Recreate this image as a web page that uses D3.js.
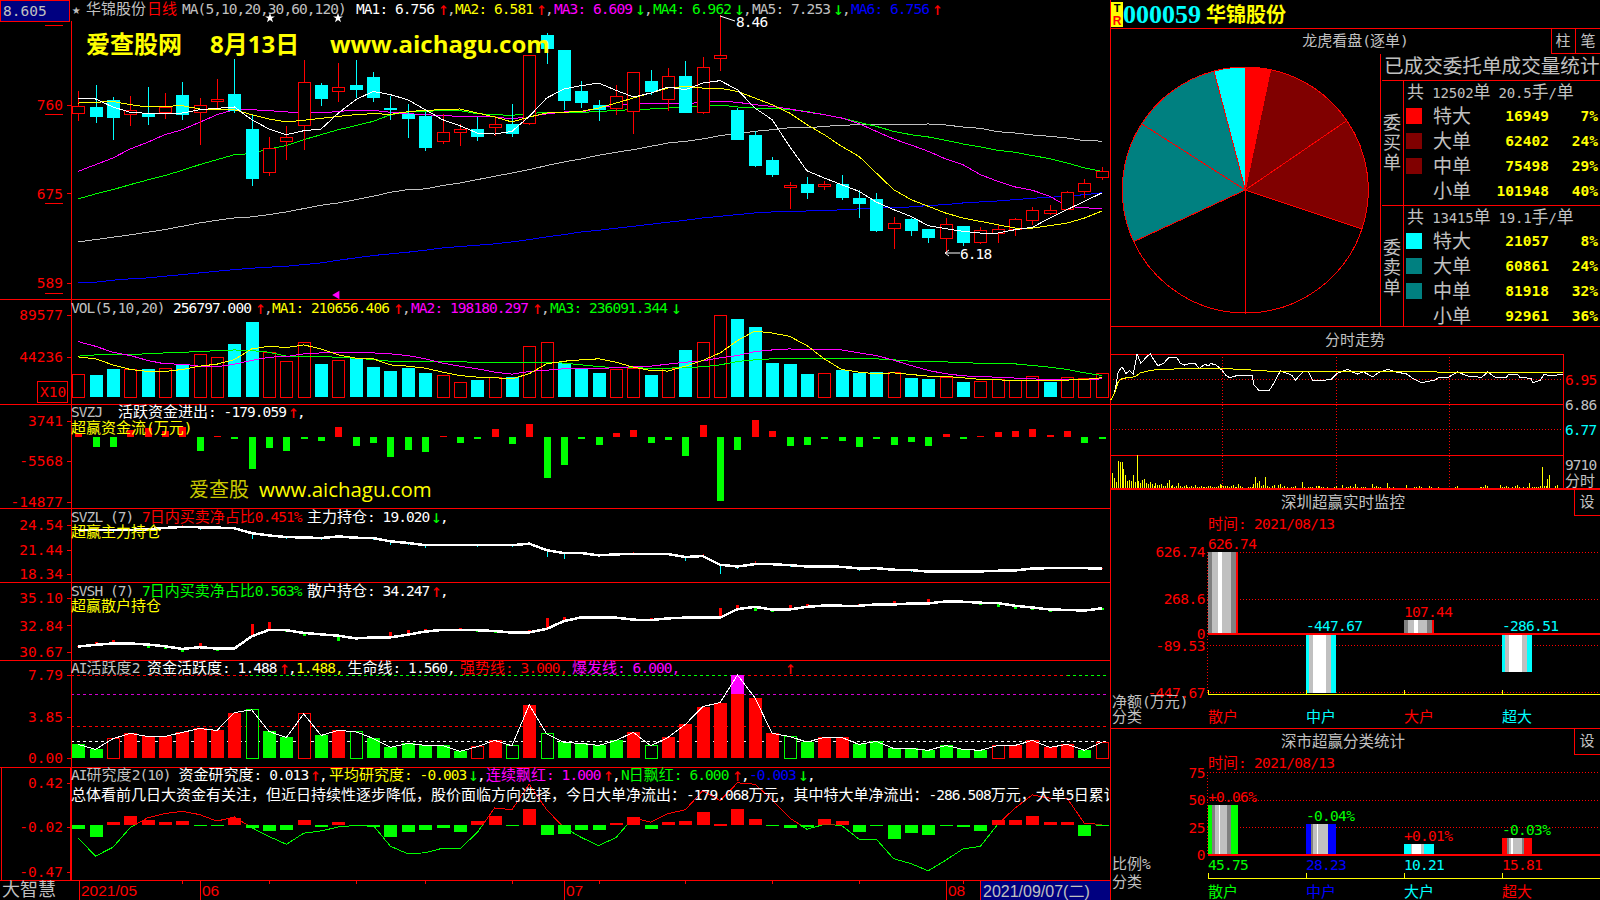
<!DOCTYPE html>
<html><head><meta charset="utf-8">
<script src="https://cdn.jsdelivr.net/npm/d3@7"></script>
<style>html,body{margin:0;padding:0;background:#000;overflow:hidden}svg{display:block}</style>
</head><body><svg id="c" width="1600" height="900"></svg>
<script>
// ---------- daily candles ----------
const candleOpen=[7.52,7.58,7.64,7.51,7.51,7.53,7.69,7.53,7.63,7.70,7.36,6.95,7.25,7.40,7.79,7.73,7.79,7.86,7.57,7.51,7.49,7.25,7.34,7.36,7.38,7.41,7.42,8.27,8.12,7.73,7.60,7.57,7.54,7.83,7.65,7.87,7.53,8.05,7.55,7.31,7.07,6.81,6.84,6.82,6.84,6.70,6.69,6.41,6.50,6.40,6.32,6.43,6.28,6.37,6.40,6.49,6.56,6.60,6.77,6.90];
const candleClose=[7.59,7.49,7.48,7.55,7.49,7.58,7.51,7.60,7.65,7.55,6.89,7.18,7.29,7.82,7.66,7.77,7.75,7.67,7.56,7.47,7.19,7.34,7.36,7.30,7.41,7.33,8.08,8.14,7.64,7.62,7.56,7.68,7.91,7.73,7.87,7.53,7.96,8.08,7.27,7.02,6.93,6.83,6.76,6.84,6.71,6.65,6.39,6.46,6.39,6.33,6.45,6.28,6.39,6.40,6.50,6.59,6.59,6.76,6.85,6.96];
const candleHigh=[7.73,7.79,7.68,7.69,7.77,7.72,7.82,7.67,7.85,8.04,7.51,7.29,7.40,8.03,7.81,8.00,8.03,7.92,7.69,7.61,7.53,7.51,7.42,7.48,7.49,7.61,8.08,8.29,8.12,7.83,7.65,7.79,7.92,7.94,7.96,8.02,8.06,8.46,7.57,7.35,7.10,6.86,6.91,6.87,6.93,6.78,6.75,6.52,6.51,6.41,6.51,6.43,6.43,6.45,6.51,6.62,6.64,6.77,6.89,7.00];
const candleLow=[7.45,7.43,7.26,7.40,7.41,7.47,7.46,7.22,7.57,7.52,6.82,6.92,7.07,7.17,7.59,7.63,7.67,7.63,7.46,7.28,7.16,7.23,7.21,7.25,7.30,7.29,7.41,7.99,7.55,7.57,7.45,7.50,7.32,7.70,7.54,7.53,7.51,7.93,7.27,7.00,6.91,6.60,6.70,6.78,6.69,6.51,6.38,6.22,6.34,6.27,6.18,6.25,6.26,6.27,6.34,6.45,6.54,6.60,6.71,6.88];
// ---------- price moving averages ----------
const ma1=[7.658,7.658,7.581,7.530,7.520,7.520,7.523,7.555,7.568,7.581,7.459,7.369,7.315,7.353,7.369,7.523,7.651,7.731,7.699,7.651,7.555,7.459,7.401,7.331,7.321,7.347,7.491,7.667,7.754,7.786,7.811,7.741,7.677,7.715,7.773,7.747,7.811,7.834,7.747,7.571,7.459,7.203,6.969,6.899,6.835,6.771,6.668,6.595,6.530,6.441,6.412,6.386,6.370,6.370,6.402,6.425,6.514,6.595,6.675,6.755];
const ma2=[7.619,7.626,7.635,7.603,7.581,7.587,7.594,7.562,7.552,7.555,7.507,7.465,7.437,7.453,7.472,7.491,7.507,7.517,7.510,7.536,7.549,7.555,7.562,7.523,7.485,7.437,7.485,7.523,7.530,7.539,7.571,7.619,7.667,7.715,7.763,7.779,7.763,7.760,7.731,7.667,7.603,7.523,7.411,7.315,7.203,7.107,6.947,6.787,6.691,6.627,6.562,6.514,6.482,6.450,6.418,6.418,6.441,6.466,6.514,6.581];
const ma3=[6.963,7.027,7.091,7.178,7.242,7.315,7.363,7.434,7.507,7.555,7.555,7.546,7.533,7.530,7.523,7.539,7.549,7.549,7.530,7.517,7.507,7.498,7.491,7.485,7.485,7.466,7.491,7.514,7.533,7.533,7.571,7.594,7.610,7.610,7.613,7.613,7.626,7.638,7.626,7.603,7.587,7.562,7.533,7.507,7.475,7.421,7.347,7.274,7.216,7.155,7.082,7.027,6.931,6.867,6.813,6.781,6.723,6.627,6.611,6.609];
const ma4=[6.698,6.746,6.787,6.835,6.880,6.922,6.973,7.027,7.075,7.123,7.133,7.178,7.210,7.267,7.315,7.363,7.402,7.443,7.507,7.533,7.539,7.546,7.546,7.517,7.507,7.501,7.517,7.530,7.530,7.530,7.536,7.549,7.555,7.562,7.571,7.578,7.594,7.600,7.581,7.571,7.571,7.555,7.539,7.507,7.475,7.434,7.395,7.347,7.315,7.293,7.261,7.226,7.197,7.165,7.146,7.114,7.085,7.043,6.995,6.962];
const ma5=[6.285,6.307,6.330,6.352,6.378,6.403,6.435,6.467,6.493,6.515,6.525,6.547,6.573,6.605,6.637,6.659,6.691,6.723,6.762,6.787,6.794,6.826,6.851,6.883,6.915,6.947,6.979,7.018,7.053,7.082,7.117,7.146,7.171,7.203,7.235,7.251,7.274,7.306,7.325,7.347,7.363,7.382,7.379,7.395,7.405,7.411,7.411,7.411,7.411,7.418,7.408,7.389,7.376,7.344,7.331,7.312,7.299,7.283,7.258,7.253];
const ma6=[5.891,5.898,5.917,5.930,5.939,5.955,5.971,5.987,6.003,6.019,6.032,6.042,6.051,6.067,6.083,6.109,6.131,6.154,6.170,6.186,6.205,6.227,6.240,6.253,6.266,6.285,6.307,6.333,6.355,6.381,6.397,6.416,6.435,6.454,6.474,6.493,6.515,6.531,6.547,6.563,6.573,6.576,6.582,6.589,6.592,6.602,6.611,6.611,6.621,6.634,6.643,6.659,6.669,6.678,6.691,6.704,6.714,6.723,6.739,6.756];
const priceTicks=[7.60,6.75,5.89];
// ---------- volume (unit x10) ----------
const volValues=[24274,23550,30070,30070,30070,30800,36230,46010,42750,58330,82240,48910,38400,59050,36590,39490,42750,32240,27900,31160,25720,23190,15580,18120,21380,21380,54710,59050,36950,30070,25720,30070,31520,23550,31520,51810,59050,88760,85500,76810,37680,35510,24640,25360,28980,25720,26810,26450,20290,19200,21010,15940,17030,19200,18120,22100,15940,21010,19930,25680];
const volUp=[1,0,0,1,0,1,0,1,1,0,0,1,1,1,0,1,0,0,0,0,0,1,1,0,1,0,1,1,0,0,0,1,1,0,1,0,1,1,0,0,0,0,0,1,0,0,0,1,0,0,1,0,1,1,1,1,0,1,1,1];
const volMa1=[43.8,41.7,35.1,30.1,27.9,27.9,30.1,33.7,35.9,40.9,52.5,55.4,54.0,56.9,52.5,46.0,42.4,41.7,35.1,33.7,31.5,27.2,23.5,21.7,21.0,19.9,25.4,36.2,39.1,40.6,41.7,38.0,32.6,29.0,28.3,33.7,39.9,48.2,61.6,72.1,69.9,66.3,56.2,41.7,30.1,27.2,25.4,26.4,24.6,22.8,22.5,21.0,19.2,18.8,17.8,17.8,17.8,18.5,19.2,21.1];
const volMa2=[60.5,55.4,48.9,45.3,39.9,36.2,35.9,33.7,33.0,35.9,39.9,43.5,44.2,47.1,48.2,48.2,48.9,48.2,47.1,45.3,41.7,37.0,33.7,30.8,27.2,25.0,27.9,29.3,30.8,30.8,30.8,32.2,33.0,33.7,35.9,38.0,39.5,42.8,45.3,49.6,51.4,52.5,51.4,51.4,51.4,48.2,45.3,40.2,34.4,29.0,25.4,23.2,22.1,21.7,20.7,19.9,18.8,18.8,18.8,19.8];
const volMa3=[44.6,46.0,46.0,46.7,47.1,48.2,48.9,49.6,50.7,51.4,50.7,48.9,44.6,44.6,44.6,43.1,42.4,40.9,39.1,39.1,39.1,38.8,38.8,37.3,37.3,37.3,38.0,38.0,37.0,35.1,33.3,31.9,31.9,31.5,31.5,32.2,33.0,35.1,38.8,40.6,41.7,41.7,42.4,42.4,42.4,42.4,41.7,40.6,39.1,38.4,38.4,37.3,37.0,36.2,36.2,34.4,32.6,30.1,26.4,23.6];
const volTicks=[89577,44236];
// ---------- capital flow ----------
const flowValues=[924,-2233,-2233,1694,2079,1463,2464,-3157,308,-154,-7315,-2464,-3157,-385,-847,2387,-2002,-1309,-4543,-2926,-3388,308,-1309,-154,1925,-1540,3080,-9394,-6391,-154,-1771,1001,1694,-1309,-616,-4312,2849,-14707,-2926,4004,1463,-2002,-1771,-154,-847,-2233,-385,-1771,-1078,-2002,770,-385,308,1232,1463,1925,539,1463,-1309,-179];
const flowTicks=[3741,-5568,-14877];
// ---------- holdings ----------
const mainHold=[23.92,23.92,23.88,23.92,24.00,24.17,24.29,24.25,24.21,24.13,23.51,23.22,23.01,22.97,22.89,23.09,22.93,22.89,22.47,22.27,21.98,21.98,21.98,21.98,21.98,21.98,22.18,21.36,20.99,20.99,20.70,20.82,20.90,20.86,20.86,20.49,20.61,19.50,19.29,19.58,19.58,19.46,19.29,19.29,19.25,19.04,19.08,18.88,18.84,18.63,18.63,18.63,18.67,18.75,18.79,19.04,19.08,19.08,19.08,19.02];
const mainDelta=[.1,.05,-.25,.1,.05,.1,.2,-.3,.1,.05,-.7,-.2,-.3,-.05,-.2,.1,-.2,-.3,-.5,-.2,-.4,.15,-.15,-.2,.15,-.2,.2,-.9,-.8,-.1,-.2,.15,.2,-.1,-.1,-.5,.3,-1.2,-.3,.4,.2,-.2,-.2,-.1,-.2,-.3,.1,-.2,-.2,-.2,.15,-.1,.15,.2,.2,.2,.1,.15,-.15,.05];
const mainTicks=[24.54,21.44,18.34];
const retailHold=[31.10,31.24,31.35,31.35,31.26,31.12,30.90,31.04,30.93,30.93,31.94,32.47,32.44,32.22,32.10,31.99,31.77,31.85,31.85,32.08,32.33,32.47,32.47,32.44,32.38,32.24,32.27,32.55,33.20,33.50,33.48,33.48,33.31,33.28,33.42,33.48,33.48,33.48,34.18,34.37,34.15,34.15,34.37,34.48,34.46,34.46,34.57,34.57,34.65,34.65,34.82,34.79,34.71,34.68,34.46,34.32,34.15,34.12,34.06,34.25];
const retailDelta=[.06,.25,.25,-.08,-.25,-.25,-.25,.34,-.17,.08,1.0,.67,-.17,-.25,-.17,-.42,.08,.08,.42,.34,.25,-.08,.17,-.11,-.14,.14,.17,.92,.34,-.17,.17,-.14,-.14,.17,-.14,.14,-.11,.76,.34,-.34,-.17,.34,.25,.08,.08,.17,-.08,.25,-.08,.34,-.17,-.08,-.17,-.34,-.25,-.25,-.17,-.08,.17,-.08];
const retailTicks=[35.10,32.84,30.67];
// ---------- activity ----------
const activeValues=[1.28,.81,1.81,2.31,2.02,2.02,2.40,2.77,2.59,4.27,4.52,2.49,1.93,4.14,2.12,2.59,2.46,1.84,1.00,1.37,1.18,1.18,.62,1.06,1.65,1.15,4.98,2.27,1.46,1.37,1.18,1.65,2.40,1.15,1.93,3.15,4.83,5.20,7.79,5.67,2.31,2.02,1.50,1.93,1.93,1.28,1.56,.90,.90,.72,1.18,.81,.72,1.18,1.18,1.65,1.00,1.28,.72,1.488];
const activeKind=['g','g','rh','r','r','r','r','r','r','r','gh','g','g','rh','g','r','gh','g','g','g','g','g','g','rh','r','gh','r','gh','g','g','g','g','r','gh','r','r','r','r','r','r','r','gh','g','r','r','g','g','g','g','g','g','g','g','rh','r','r','r','r','g','rh'];
const activeTicks=[7.79,3.85,0];
const activeLevels=[1.56,3,6];
// ---------- research ----------
const researchBars=[-.046,-.124,.023,.092,.052,.023,.033,-.007,-.007,.069,-.036,-.065,-.056,.052,-.02,.023,-.007,-.026,-.124,-.075,-.056,-.036,-.075,.033,.092,-.016,.16,-.105,-.095,-.056,-.056,.013,.082,-.046,.023,.033,.131,.003,.16,.062,-.007,-.036,-.026,.062,.033,-.075,-.016,-.144,-.085,-.105,-.016,-.026,-.065,.052,.052,.092,.023,.023,-.114,-.007];
const researchLine=[-.134,-.314,-.226,-.029,.069,.111,.134,.101,.036,.078,-.029,-.118,-.196,-.085,-.062,-.023,-.007,-.007,-.216,-.291,-.281,-.235,-.242,-.078,.167,.150,.405,.150,-.029,-.128,-.209,-.128,.069,.026,.111,.150,.340,.242,.419,.405,.249,.069,-.046,.003,-.007,-.144,-.144,-.340,-.389,-.461,-.356,-.242,-.216,.003,.167,.298,.265,.265,.013,.003];
const researchTicks=[.42,-.02,-.47];
// ---------- date axis ----------
const monthIndex=[0.05,7,28,50.0];
const monthLabels=['2021/05','06','07','08'];
// ---------- order pie ----------
const buyLabels=['特大','大单','中单','小单'];
const buyValues=[16949,62402,75498,101948];
const buyPct=['7%','24%','29%','40%'];
const sellValues=[21057,60861,81918,92961];
const sellPct=['8%','24%','32%','36%'];
// ---------- intraday ----------
const minuteIdx=[0,2,4,6,8,10,12,14,16,19,21,23,25,28,31,35,37,39,42,45,47,50,52,53,56,59,61,63,68,75,76,79,84,87,90,96,98,102,105,107,114,117,120,126,128,131,134,139,142,147,151,157,161,165,172,174,179,184,189,197,200,204,210,211,216,217,223,224,228,230,233,240];
const minutePrice=[6.874,6.898,6.976,6.994,6.970,6.980,6.967,7.040,7.006,7.030,7.040,7.018,6.998,7.006,7.028,7.028,7.006,7.000,7.006,7.004,6.988,7.003,6.997,7.006,7.000,6.982,6.964,6.955,6.964,6.964,6.928,6.907,6.907,6.940,6.979,6.964,6.946,6.976,6.976,6.946,6.946,6.949,6.970,6.985,6.976,6.968,6.976,6.958,6.973,6.985,6.976,6.968,6.949,6.937,6.946,6.955,6.955,6.976,6.961,6.956,6.976,6.956,6.956,6.967,6.967,6.956,6.952,6.937,6.946,6.967,6.961,6.967];
const avgIdx=[0,2,4,6,13,16,22,31,39,59,68,85,240];
const avgPrice=[6.874,6.898,6.940,6.952,6.958,6.973,6.982,6.985,6.988,6.988,6.985,6.978,6.973];
const minuteVol=[0,16,11,7,28,27,27,20,14,8,9,8,14,7,34,8,6,9,10,6,5,7,5,3,6,4,4,5,3,3,6,9,3,4,2,3,6,3,2,3,4,2,2,3,2,4,2,2,3,2,2,2,3,3,2,2,2,3,5,4,3,3,3,2,3,4,2,2,5,3,2,1,0,2,2,2,5,12,6,8,3,4,12,3,2,1,3,4,1,4,5,2,3,1,2,1,2,2,3,1,1,1,7,2,1,2,2,2,1,3,3,3,2,2,0,2,1,1,0,2,3,1,1,4,1,2,2,3,1,2,5,2,1,2,2,2,1,1,1,5,2,3,2,2,1,1,1,6,2,1,2,1,1,1,1,0,1,4,1,1,0,2,2,1,3,2,1,0,1,3,2,1,0,0,2,0,0,0,1,0,1,1,0,2,3,1,1,1,1,1,0,0,1,1,1,0,2,2,2,4,3,1,1,1,1,0,0,4,2,2,3,2,1,2,1,3,4,2,1,2,1,2,6,1,2,2,2,2,3,22,3,3,10,14,0,0,3,4,0,0];
const intraTicks=[6.95,6.86,6.77];
// ---------- Shenzhen bars ----------
const classNames=['散户','中户','大户','超大'];
const netValues=[626.74,-447.67,107.44,-286.51];
const netTicks=[626.74,268.6,0,-89.53,-447.67];
const netTickLabels=['626.74','268.6','0','-89.53','-447.67'];
const ratioValues=[45.75,28.23,10.21,15.81];
const ratioChange=['+0.06%','-0.04%','+0.01%','-0.03%'];
const ratioTicks=[75,50,25,0];

const svg=d3.select('#c');
const RED='#ff0000',CYAN='#00ffff',GREEN='#00ff00',YEL='#ffff00',MAG='#ff00ff',GRAY='#c0c0c0',BLUE='#0000ff';
const CJK='"Noto Sans CJK SC"',MONO='"DejaVu Sans Mono"';
svg.append('rect').attr('width',1600).attr('height',900).attr('fill','#000');
const defs=svg.append('defs');
defs.append('clipPath').attr('id','cp').append('rect').attr('x',71).attr('y',0).attr('width',1038).attr('height',900);
defs.append('clipPath').attr('id','cpr').append('rect').attr('x',1111).attr('y',0).attr('width',489).attr('height',900);

function txt(par,x,y,s,color,o={}){
  if(s==='↑'||s==='↓'){o=Object.assign({},o,{lat:18,ls:0,dy:6,font:MONO});x-=3;}
  const useDefault=o.lat===undefined&&!o.font;
  const lat=useDefault?14.5:(o.lat||13);
  const ls=o.ls!==undefined?o.ls:(useDefault?-.93:0);
  const t=par.append('text').attr('x',x).attr('y',y+(o.dy===undefined?5:o.dy)).attr('fill',color).attr('text-anchor',o.anchor||'start');
  if(o.weight)t.attr('font-weight',o.weight);
  s.split(/([\u2E80-\uFFFF]+)/).filter(r=>r.length).forEach(r=>{
    const c=/[\u2E80-\uFFFF]/.test(r);
    const sp=t.append('tspan').attr('font-family',c?CJK:(o.font||MONO)).attr('font-size',c?(o.cjk||15):lat).text(r);
    if(!c&&ls)sp.attr('letter-spacing',ls);
  });
  return t;
}
const RT={lat:14.5,ls:-.7};
function hline(x1,x2,y,c,o={}){const l=svg.append('line').attr('x1',x1).attr('x2',x2).attr('y1',y).attr('y2',y).attr('stroke',c).attr('stroke-width',o.w||1).attr('shape-rendering','crispEdges');if(o.dash)l.attr('stroke-dasharray',o.dash);return l;}
function vline(x,y1,y2,c,o={}){const l=svg.append('line').attr('x1',x).attr('x2',x).attr('y1',y1).attr('y2',y2).attr('stroke',c).attr('stroke-width',o.w||1).attr('shape-rendering','crispEdges');if(o.dash)l.attr('stroke-dasharray',o.dash);return l;}
function yAxis(scale,vals,labels,x,size,pad){
  const g=svg.append('g').attr('transform',`translate(${x},0)`).call(d3.axisLeft(scale).tickValues(vals).tickFormat((d,i)=>labels[i]).tickSize(size).tickPadding(pad));
  g.select('.domain').remove();
  g.selectAll('line').attr('stroke',RED).attr('shape-rendering','crispEdges');
  g.selectAll('text').attr('fill',RED).attr('font-family',MONO).attr('font-size',14.5);
  return g;
}
const xi=d3.scaleLinear().domain([0,59]).range([78.2,1101.8]);
const idx=d3.range(60);
const plot=svg.append('g').attr('clip-path','url(#cp)').attr('shape-rendering','crispEdges');
function drawLine(yS,arr,c,w){plot.append('path').attr('d',d3.line().x((d,i)=>xi(i)).y(d=>yS(d))(arr)).attr('fill','none').attr('stroke',c).attr('stroke-width',w||1);}

// ---- main
const yP=d3.scaleLinear().domain([8.605,5.89]).range([0.4,283]);
[ma5,ma6,ma4,ma3].forEach((a,k)=>drawLine(yP,a,['#c0c0c0',BLUE,GREEN,MAG][k]));
idx.forEach(i=>{
  const o=candleOpen[i],c=candleClose[i],up=c>=o,col=up?RED:CYAN,x=Math.round(xi(i)),top=yP(Math.max(o,c)),bot=yP(Math.min(o,c));
  plot.append('line').attr('x1',x).attr('x2',x).attr('y1',yP(candleHigh[i])).attr('y2',top).attr('stroke',col);
  plot.append('line').attr('x1',x).attr('x2',x).attr('y1',bot).attr('y2',yP(candleLow[i])).attr('stroke',col);
  plot.append('rect').attr('x',x-6).attr('y',top).attr('width',12).attr('height',Math.max(1,bot-top)).attr('fill',up?'#000':CYAN).attr('stroke',col);
});
drawLine(yP,ma2,YEL);drawLine(yP,ma1,'#fff');
yAxis(yP,priceTicks,priceTicks.map(d=>String(Math.round(d*100))),71,4,4);
[25,114,203,293].forEach(y=>hline(45,63,y,RED));

// ---- volume
const yV=d3.scaleLinear().domain([0,89577]).range([397,315]);
idx.forEach(i=>{const x=Math.round(xi(i)),y=yV(volValues[i]);
  if(volUp[i])plot.append('rect').attr('x',x-6).attr('y',y).attr('width',12).attr('height',397-y).attr('fill','#000').attr('stroke',RED);
  else plot.append('rect').attr('x',x-6.5).attr('y',y).attr('width',13).attr('height',397-y).attr('fill',CYAN);
});
[[volMa3,GREEN],[volMa2,MAG],[volMa1,YEL]].forEach(([a,c])=>drawLine(yV,a.map(v=>v*1000),c));
yAxis(yV,volTicks,volTicks.map(String),71,4,4);

// ---- flow
const yF=d3.scaleLinear().domain([3741,-14877]).range([421,501.7]);
idx.forEach(i=>{const v=flowValues[i],y0=yF(0),y1=yF(v);
  plot.append('rect').attr('x',Math.round(xi(i))-3.5).attr('y',Math.min(y0,y1)).attr('width',7).attr('height',Math.max(1.5,Math.abs(y1-y0))).attr('fill',v>=0?RED:GREEN);
});
yAxis(yF,flowTicks,flowTicks.map(String),71,4,4);

// ---- main hold
const yH=d3.scaleLinear().domain([24.54,18.34]).range([525,574]);
idx.forEach(i=>{const x=Math.round(xi(i)),v=mainHold[i],d=mainDelta[i];
  plot.append('line').attr('x1',x).attr('x2',x).attr('y1',yH(v)).attr('y2',yH(v+d)).attr('stroke',d>=0?RED:CYAN);});
drawLine(yH,mainHold,'#fff',2.5);
yAxis(yH,mainTicks,mainTicks.map(d=>d.toFixed(2)),71,4,4);

// ---- retail hold
const yR=d3.scaleLinear().domain([35.10,30.67]).range([598,651.7]);
idx.forEach(i=>{const x=Math.round(xi(i)),v=retailHold[i],d=retailDelta[i],a=yR(v),b=yR(v+d);
  plot.append('rect').attr('x',x-1.5).attr('y',Math.min(a,b)).attr('width',3).attr('height',Math.max(1.5,Math.abs(a-b))).attr('fill',d>=0?RED:GREEN);});
drawLine(yR,retailHold,'#fff',2.5);
yAxis(yR,retailTicks,retailTicks.map(d=>d.toFixed(2)),71,4,4);

// ---- activity
const yA=d3.scaleLinear().domain([7.79,0]).range([675,758]);
[[activeLevels[0],'#fff'],[activeLevels[1],RED],[activeLevels[2],'#d000d0']].forEach(([v,c])=>plot.append('line').attr('x1',71).attr('x2',1109).attr('y1',yA(v)).attr('y2',yA(v)).attr('stroke',c).attr('stroke-dasharray','3,3'));
[[71,250,RED],[250,736,GREEN],[736,1067,RED],[1067,1109,GREEN]].forEach(([a,b,c])=>plot.append('line').attr('x1',a).attr('x2',b).attr('y1',675).attr('y2',675).attr('stroke',c).attr('stroke-dasharray','3,3'));
idx.forEach(i=>{const x=Math.round(xi(i)),v=activeValues[i],k=activeKind[i],c=k[0]==='r'?RED:GREEN,y=yA(Math.min(v,6));
  if(k.length>1)plot.append('rect').attr('x',x-6).attr('y',y).attr('width',12).attr('height',758-y).attr('fill','#000').attr('stroke',c);
  else plot.append('rect').attr('x',x-6.5).attr('y',y).attr('width',13).attr('height',758-y).attr('fill',c);
  if(v>6)plot.append('rect').attr('x',x-6.5).attr('y',yA(v)).attr('width',13).attr('height',yA(6)-yA(v)).attr('fill',MAG);
});
drawLine(yA,activeValues,'#fff');
yAxis(yA,activeTicks,activeTicks.map(d=>d.toFixed(2)),71,4,4);

// ---- research
const yS=d3.scaleLinear().domain([.42,-.47]).range([782.7,871.7]);
defs.append('clipPath').attr('id','above').append('rect').attr('x',71).attr('y',767).attr('width',1038).attr('height',yS(0)-767);
defs.append('clipPath').attr('id','below').append('rect').attr('x',71).attr('y',yS(0)).attr('width',1038).attr('height',880-yS(0));
[['above',RED],['below',GREEN]].forEach(([id,c])=>{
  svg.append('g').attr('clip-path',`url(#${id})`).attr('shape-rendering','crispEdges').append('path').attr('d',d3.line().x((d,i)=>xi(i)).y(d=>yS(d))(researchLine)).attr('fill','none').attr('stroke',c);
});
idx.forEach(i=>{const v=researchBars[i],a=yS(0),b=yS(v);
  plot.append('rect').attr('x',Math.round(xi(i))-6.5).attr('y',Math.min(a,b)).attr('width',13).attr('height',Math.max(1.5,Math.abs(a-b))).attr('fill',v>=0?RED:GREEN);});
yAxis(yS,researchTicks,researchTicks.map(d=>d.toFixed(2)),71,4,4);

// ---- frame lines
[299,404,508,582,660,767,880].forEach(y=>hline(0,1110,y,RED));
vline(71,21,880,RED);vline(1110.5,0,900,RED);
svg.append('rect').attr('x',1).attr('y',767).attr('width',69).attr('height',113).attr('fill','none').attr('stroke',RED).attr('shape-rendering','crispEdges');
svg.append('rect').attr('x',.5).attr('y',.5).attr('width',69).attr('height',21).attr('fill','#000080').attr('stroke',RED).attr('shape-rendering','crispEdges');
txt(svg,3,11,'8.605',GRAY,{lat:14.5});
svg.append('rect').attr('x',37.5).attr('y',381).attr('width',30).attr('height',21).attr('fill','none').attr('stroke',RED).attr('shape-rendering','crispEdges');
txt(svg,40,392,'X10',RED,{lat:14.5});

// ---- main headers
txt(svg,72,9,'★',GRAY,{lat:14});
txt(svg,86,9,'华锦股份',GRAY);txt(svg,147,9,'日线',RED);
txt(svg,182,9,'MA(5,10,20,30,60,120)',GRAY);
const segs1=[[356,'MA1: 6.756','#fff'],[441,'↑',RED],[447,',',GRAY],[455,'MA2: 6.581',YEL],[539,'↑',RED],[545,',',GRAY],[554,'MA3: 6.609',MAG],[638,'↓',GREEN],[644,',',GRAY],[653,'MA4: 6.962',GREEN],[737,'↓',GREEN],[743,',',GRAY],[752,'MA5: 7.253',GRAY],[836,'↓',GREEN],[842,',',GRAY],[851,'MA6: 6.756',BLUE],[935,'↑',RED]];
segs1.forEach(([x,s,c])=>txt(svg,x,9,s,c));
[270,338].forEach(x=>svg.append('path').attr('transform',`translate(${x},18)`).attr('d',d3.symbol(d3.symbolStar,30)()).attr('fill','#fff'));
svg.append('path').attr('transform','translate(337,295) rotate(-90)').attr('d',d3.symbol(d3.symbolTriangle,30)()).attr('fill',MAG);
txt(svg,86,45,'爱查股网',YEL,{cjk:24,weight:'bold',dy:8});
txt(svg,210,45,'8月13日',YEL,{cjk:24,lat:24,font:'"Open Sans"',weight:'bold',dy:8});
txt(svg,330,45,'www.aichagu.com',YEL,{lat:24,font:'"Open Sans"',weight:'bold',dy:8});
// annotations
svg.append('line').attr('x1',720).attr('y1',16).attr('x2',735).attr('y2',21).attr('stroke','#fff');
txt(svg,736,22,'8.46','#fff');
svg.append('line').attr('x1',945).attr('y1',253).attr('x2',960).attr('y2',253).attr('stroke','#fff');
svg.append('path').attr('d','M945,253l4,-3M945,253l4,3').attr('stroke','#fff').attr('fill','none');
txt(svg,960,254,'6.18','#fff');

// ---- panel headers
[[71,'VOL(5,10,20)',GRAY],[173,'256797.000','#fff'],[258,'↑',RED],[264,',',GRAY],[272,'MA1: 210656.406',YEL],[396,'↑',RED],[402,',',GRAY],[411,'MA2: 198180.297',MAG],[535,'↑',RED],[541,',',GRAY],[550,'MA3: 236091.344',GREEN],[674,'↓',GREEN]].forEach(([x,s,c])=>txt(svg,x,308,s,c));
[[71,'SVZJ',GRAY],[118,'活跃资金进出: -179.059','#fff'],[291,'↑',RED],[297,',','#fff']].forEach(([x,s,c])=>txt(svg,x,412,s,c));
txt(svg,71,428,'超赢资金流(万元)',YEL);
txt(svg,189,490,'爱查股',"#c8c800",{cjk:20,dy:7});
txt(svg,259,490,'www.aichagu.com',YEL,{lat:20.4,font:'"Open Sans"',dy:7});
[[71,'SVZL (7)',GRAY],[142,'7日内买卖净占比0.451%',RED],[307,'主力持仓: 19.020','#fff'],[434,'↓',GREEN],[440,',','#fff']].forEach(([x,s,c])=>txt(svg,x,517,s,c));
txt(svg,71,532,'超赢主力持仓',YEL);
[[71,'SVSH (7)',GRAY],[142,'7日内买卖净占比0.563%',GREEN],[307,'散户持仓: 34.247','#fff'],[434,'↑',RED],[440,',','#fff']].forEach(([x,s,c])=>txt(svg,x,591,s,c));
txt(svg,71,606,'超赢散户持仓',YEL);
[[71,'AI活跃度2',GRAY],[147,'资金活跃度: 1.488','#fff'],[282,'↑',RED],[288,',','#fff'],[296,'1.488,',YEL],[347.5,'生命线: 1.560,','#fff'],[460,'强势线: 3.000,',RED],[572,'爆发线: 6.000,',MAG],[788,'↑',RED]].forEach(([x,s,c])=>txt(svg,x,668,s,c));
[[71,'AI研究度2(10)',GRAY],[178.6,'资金研究度: 0.013','#fff'],[313,'↑',RED],[319,',','#fff'],[329,'平均研究度: -0.003',YEL],[471,'↓',GREEN],[477,',','#fff'],[486,'连续飘红: 1.000',MAG],[606,'↑',RED],[612,',','#fff'],[621,'N日飘红: 6.000',GREEN],[735,'↑',RED],[741,',','#fff'],[749,'-0.003',BLUE],[801,'↓',GREEN],[807,',','#fff']].forEach(([x,s,c])=>txt(svg,x,775,s,c));
txt(svg.append('g').attr('clip-path','url(#cp)'),71,795,'总体看前几日大资金有关注，但近日持续性逐步降低，股价面临方向选择，今日大单净流出：-179.068万元，其中特大单净流出：-286.508万元，大单5日累计','#fff');

// ---- date axis
txt(svg,2,890,'大智慧',GRAY,{cjk:18,dy:6});
monthIndex.forEach((m,i)=>{const x=Math.round(xi(m));vline(x,880,900,RED);txt(svg,x+2,891,monthLabels[i],RED,{lat:15.5,dy:5,font:'"Liberation Sans"'});});
[6,11,16,20,25,30,35,40,45,51].forEach(m=>vline(Math.round(xi(m)),880,884,RED));
svg.append('rect').attr('x',980).attr('y',881).attr('width',130).attr('height',19).attr('fill','#000080');
vline(980,880,900,RED);
txt(svg,983,891,'2021/09/07(二)',GRAY,{lat:16,cjk:16,font:'"Liberation Sans"',dy:6});

// ---- right: header
svg.append('rect').attr('x',1111).attr('y',2).attr('width',12).attr('height',25).attr('fill',YEL);
txt(svg,1117,8,'T','#000',{anchor:'middle',font:'"Liberation Sans"',weight:'bold',lat:11,dy:4});
txt(svg,1117,20,'R',RED,{anchor:'middle',font:'"Liberation Sans"',weight:'bold',lat:12,dy:5});
txt(svg,1123,15,'000059',CYAN,{lat:26,font:'"Liberation Serif"',weight:'bold',dy:8});
txt(svg,1206,15,'华锦股份',YEL,{cjk:20,weight:'bold',dy:7});
hline(1110,1600,28,RED);
txt(svg,1355,41,'龙虎看盘(逐单)',GRAY,{anchor:'middle'});
vline(1551,28,53,RED);vline(1575,28,53,RED);hline(1551,1600,53,RED);
txt(svg,1563,41,'柱',GRAY,{anchor:'middle'});txt(svg,1588,41,'笔',GRAY,{anchor:'middle'});

// ---- pie
const pieData=buyValues.concat(sellValues.slice().reverse());
const pieColors=[RED,'#800000','#800000','#000','#000','#008080','#008080',CYAN];
const arcs=d3.pie().sort(null)(pieData);
const arc=d3.arc().innerRadius(0).outerRadius(123);
const pg=svg.append('g').attr('transform','translate(1245.3,190)');
pg.selectAll('path').data(arcs).join('path').attr('d',arc).attr('fill',(d,i)=>pieColors[i]).attr('stroke',RED).attr('shape-rendering','crispEdges');
// ---- table
vline(1380.5,54,326,RED);vline(1403,80,326,RED);hline(1382,1600,80,RED);hline(1382,1600,205,RED);hline(1110,1600,326,RED);
txt(svg.append('g').attr('clip-path','url(#cpr)'),1384,66,'已成交委托单成交量统计',GRAY,{cjk:19.6,dy:7});
['委','买','单'].forEach((c,i)=>txt(svg,1392,123+i*20,c,GRAY,{cjk:18,anchor:'middle',dy:6}));
['委','卖','单'].forEach((c,i)=>txt(svg,1392,248+i*20,c,GRAY,{cjk:18,anchor:'middle',dy:6}));
txt(svg,1407,92,'共 12502单 20.5手/单',GRAY,{cjk:17,lat:14,ls:-.2,dy:6});
txt(svg,1407,217,'共 13415单 19.1手/单',GRAY,{cjk:17,lat:14,ls:-.2,dy:6});
const buySw=[RED,'#800000','#800000',null],sellSw=[CYAN,'#008080','#008080',null];
function rows(y0,vals,pct,sw){vals.forEach((v,i)=>{const y=y0+i*25;
  if(sw[i])svg.append('rect').attr('x',1406).attr('y',y-8).attr('width',16).attr('height',16).attr('fill',sw[i]);
  txt(svg,1433,y,buyLabels[i],GRAY,{cjk:19,dy:7});
  txt(svg,1549,y,String(v),YEL,{anchor:'end',lat:14.5,weight:'bold'});
  txt(svg,1598,y,pct[i],YEL,{anchor:'end',lat:14.5,weight:'bold'});
});}
rows(116,buyValues,buyPct,buySw);rows(241,sellValues,sellPct,sellSw);

// ---- intraday
txt(svg,1355,340,'分时走势',GRAY,{anchor:'middle'});
const xM=d3.scaleLinear().domain([0,240]).range([1110.7,1563]);
const yM=d3.scaleLinear().domain([6.95,6.77]).range([379,429]);
const yMV=d3.scaleLinear().domain([0,34]).range([489,455]);
hline(1110,1563,354,RED);hline(1110,1563,404,RED);hline(1110,1563,455,RED);hline(1110,1600,489,RED,{w:2});
vline(1563,354,489,RED);
[1222,1336,1449].forEach(x=>vline(x,354,489,RED,{dash:'1,2'}));
hline(1110,1563,379,RED,{dash:'1,2'});hline(1110,1563,429,RED,{dash:'1,2'});
const mg=svg.append('g').attr('shape-rendering','crispEdges');
minuteVol.forEach((v,i)=>{if(v>0)mg.append('line').attr('x1',xM(i)).attr('x2',xM(i)).attr('y1',yMV(v)).attr('y2',489).attr('stroke',YEL);});
mg.append('path').attr('d',d3.line().x((d,i)=>xM(minuteIdx[i])).y(d=>yM(d))(minutePrice)).attr('fill','none').attr('stroke','#fff');
mg.append('path').attr('d',d3.line().x((d,i)=>xM(avgIdx[i])).y(d=>yM(d))(avgPrice)).attr('fill','none').attr('stroke',YEL);
intraTicks.forEach((v,i)=>txt(svg,1565,yM(v)+1,v.toFixed(2),[RED,GRAY,CYAN][i]));
txt(svg,1565,465,'9710',GRAY);txt(svg,1565,481,'分时',GRAY);

// ---- Shenzhen monitor
function stripe(id,stops){const g=defs.append('linearGradient').attr('id',id);
  let prev=0;stops.forEach(([c,e])=>{g.append('stop').attr('offset',prev).attr('stop-color',c);g.append('stop').attr('offset',e).attr('stop-color',c);prev=e;});}
const G8='#808080',S='#c0c0c0',Wh='#fff';
stripe('pos',[[G8,.13],[S,.32],[Wh,.46],[S,.78],[G8,.93],[RED,1]]);
stripe('neg',[[CYAN,.09],[S,.25],[Wh,.67],[S,.83],[CYAN,1]]);
stripe('r0',[[GREEN,.14],[G8,.22],[S,.36],[Wh,.40],[S,.62],[G8,.76],[GREEN,1]]);
stripe('r1',[[BLUE,.17],[G8,.24],[S,.36],[Wh,.40],[S,.72],[G8,.74],[BLUE,1]]);
stripe('r2',[[CYAN,.22],[S,.27],[Wh,.57],[S,.66],[CYAN,1]]);
stripe('r3',[[RED,.16],[G8,.24],[S,.30],[Wh,.36],[S,.66],[G8,.74],[RED,1]]);
const xB=d3.scaleBand().domain(classNames).range([1208,1532]).paddingInner(68/98).paddingOuter(0);
function panelHead(y,title){hline(1110,1600,y,RED,{w:y<500?2:1});txt(svg,1343,y+14,title,GRAY,{anchor:'middle',cjk:15.5});
  vline(1574,y,y+26,RED);hline(1574,1600,y+26,RED);txt(svg,1587,y+13,'设',GRAY,{anchor:'middle',cjk:15});
  txt(svg,1208,y+35,'时间: 2021/08/13',RED,RT);}
panelHead(489,'深圳超赢实时监控');
const yN=d3.scaleLinear().domain([-447.67,626.74]).range([692.7,552.3]);
vline(1207,552,693,RED,{dash:'1,2'});
[626.74,268.6,-89.53,-447.67].forEach(v=>hline(1207,1600,yN(v),RED,{dash:'1,2'}));
classNames.forEach((n,i)=>{const v=netValues[i],a=yN(0),b=yN(v);
  svg.append('rect').attr('x',xB(n)).attr('y',Math.min(a,b)).attr('width',xB.bandwidth()).attr('height',Math.abs(a-b)).attr('fill',v>=0?'url(#pos)':'url(#neg)').attr('shape-rendering','crispEdges');
  txt(svg,xB(n),v>=0?yN(v)-8:626,v.toFixed(2),v>=0?RED:CYAN,RT);
  txt(svg,xB(n),717,n,i%2?CYAN:RED,{cjk:15});
  vline(xB(n),690,694,YEL);
});
hline(1208,1600,yN(0),RED,{w:1.5});
hline(1208,1600,694,YEL);
yAxis(yN,netTicks,netTickLabels,1206,0,1).selectAll('text').attr('letter-spacing',-.5);
txt(svg,1112,702,'净额(万元)',GRAY);txt(svg,1112,717,'分类',GRAY);

panelHead(728,'深市超赢分类统计');
const yQ=d3.scaleLinear().domain([0,75]).range([855,772.7]);
vline(1207,772,855,RED,{dash:'1,2'});
[75,50,25].forEach(v=>hline(1207,1600,yQ(v),RED,{dash:'1,2'}));
const ratioText=[GREEN,BLUE,CYAN,RED];
classNames.forEach((n,i)=>{const v=ratioValues[i],y=yQ(v);
  svg.append('rect').attr('x',xB(n)).attr('y',y).attr('width',xB.bandwidth()).attr('height',855-y).attr('fill',`url(#r${i})`).attr('shape-rendering','crispEdges');
  const ch=ratioChange[i];
  txt(svg,xB(n),[797,816,836,830][i],ch,ch[0]==='+'?RED:GREEN,RT);
  txt(svg,xB(n),865,v.toFixed(2),ratioText[i],RT);
  txt(svg,xB(n),892,n,ratioText[i],{cjk:15});
  vline(xB(n),873,878,YEL);
});
hline(1208,1600,855,RED,{w:1.5});
hline(1208,1600,878,YEL);
yAxis(yQ,ratioTicks,ratioTicks.map(String),1206,0,1).selectAll('text').attr('letter-spacing',-.5);
txt(svg,1112,864,'比例%',GRAY);txt(svg,1112,882,'分类',GRAY);
</script></body></html>
